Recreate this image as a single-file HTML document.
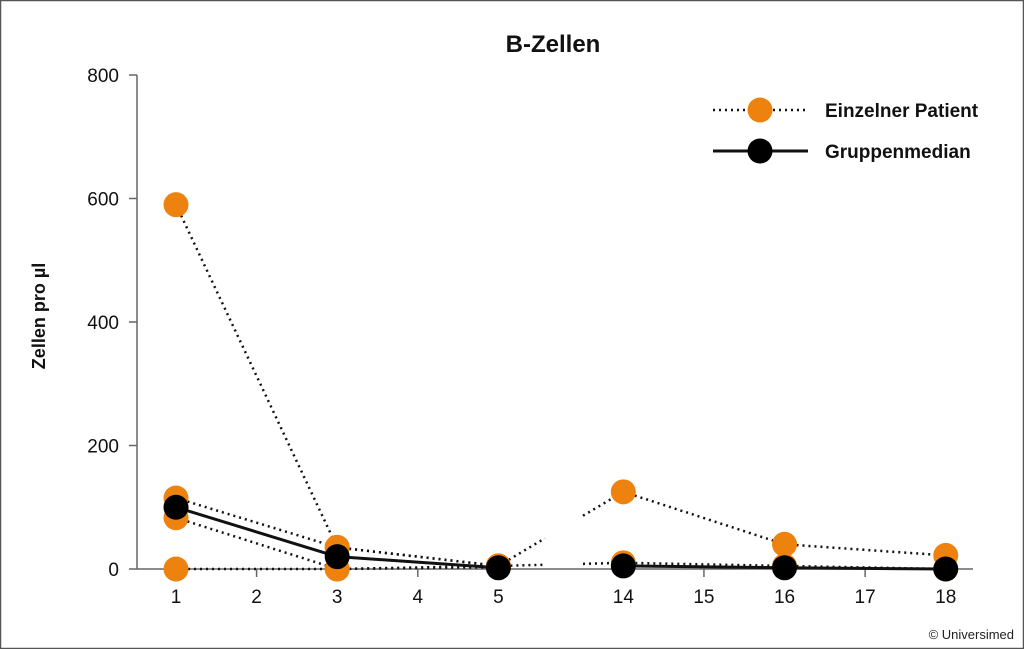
<!DOCTYPE html>
<html><head><meta charset="utf-8"><style>
html,body{margin:0;padding:0;background:#fff}
svg{display:block;font-family:"Liberation Sans Narrow","Liberation Sans",sans-serif}
</style></head><body>
<svg width="1024" height="649" viewBox="0 0 1024 649">
<rect x="0.5" y="0.5" width="1023" height="648" fill="#fff" stroke="#555" stroke-width="1.5"/>
<text x="553" y="52" text-anchor="middle" font-size="24" font-weight="bold" fill="#111">B-Zellen</text>
<text transform="translate(45,316) rotate(-90)" text-anchor="middle" font-size="18" font-weight="bold" fill="#111">Zellen pro µl</text>
<g id="axes"></g>
<g id="lines"></g>
<g id="dots"></g>
<g>
<line x1="713" y1="110" x2="808" y2="110" stroke="#111" stroke-width="2.5" stroke-dasharray="2 4"/>
<circle cx="760" cy="110" r="12.5" fill="#ee820f"/>
<text x="825" y="117" font-size="19" font-weight="bold" fill="#111">Einzelner Patient</text>
<line x1="713" y1="151" x2="808" y2="151" stroke="#111" stroke-width="3"/>
<circle cx="760" cy="151" r="12.5" fill="#000"/>
<text x="825" y="158" font-size="19" font-weight="bold" fill="#111">Gruppenmedian</text>
</g>
<text x="1014" y="639" text-anchor="end" font-size="13" fill="#222">© Universimed</text>
</svg>
<script>
const days=[1,3,5,14,16,18];
const tickDays=[1,2,3,4,5,14,15,16,17,18];
const yTicks=[0,200,400,600,800];
const patientA=[115,35,5,125,40,22];
const patientB=[0,0,5,10,5,0];
const patientC=[590,35,5,null,null,null];
const patientD=[83,0,3,null,null,null];
const median=[100,20,2,5,2,0];
const NS='http://www.w3.org/2000/svg';
function slot(d){return d<=5?d-1:d-14+5.55;}
function xS(d){return 176+slot(d)*80.6;}
function yS(v){return 569-v*494/800;}
const BREAK1=545,BREAK2=583;
function mk(tag,attrs,parent){const e=document.createElementNS(NS,tag);for(const k in attrs)e.setAttribute(k,attrs[k]);document.getElementById(parent).appendChild(e);return e;}
// axes
let ax=mk('line',{x1:137,y1:75,x2:137,y2:569,stroke:'#666','stroke-width':1.5},'axes');


let bx=mk('line',{x1:137,y1:569,x2:973,y2:569,stroke:'#666','stroke-width':1.5},'axes');


yTicks.forEach(v=>{
 let t=mk('line',{x1:129,y1:yS(v),x2:137,y2:yS(v),stroke:'#666','stroke-width':1.5},'axes');
 
 
 let l=mk('text',{x:119,y:yS(v)+7,'text-anchor':'end','font-size':19,fill:'#111'},'axes');
 l.textContent=v;
 
 
});
tickDays.forEach(d=>{
 let t=mk('line',{x1:xS(d),y1:569,x2:xS(d),y2:577,stroke:'#666','stroke-width':1.5},'axes');
 
 
 let l=mk('text',{x:xS(d),y:603,'text-anchor':'middle','font-size':19,fill:'#111'},'axes');
 l.textContent=d;
 
 
});
function seg(x1,y1,x2,y2,dotted,name){
 const a={x1:x1,y1:y1,x2:x2,y2:y2,stroke:'#111'};
 if(dotted){a['stroke-width']=2.5;a['stroke-dasharray']='2 4';}else{a['stroke-width']=3;}
 let e=mk('line',a,'lines');
 
 
}
function series(vals,dotted,name){
 for(let i=0;i<vals.length-1;i++){
  if(vals[i]==null||vals[i+1]==null)continue;
  const x1=xS(days[i]),y1=yS(vals[i]),x2=xS(days[i+1]),y2=yS(vals[i+1]);
  if(days[i]===5){
   const f=t=>y1+(y2-y1)*(t-x1)/(x2-x1);
   if(dotted){seg(x1,y1,BREAK1,f(BREAK1),dotted,name);seg(BREAK2,f(BREAK2),x2,y2,dotted,name);}
  }else seg(x1,y1,x2,y2,dotted,name);
 }
}
function dots(vals,color,name){
 vals.forEach((v,i)=>{if(v==null)return;
  let c=mk('circle',{cx:xS(days[i]),cy:yS(v),r:12.5,fill:color},'dots');
  
  
 });
}
[patientA,patientB,patientC,patientD].forEach((p,k)=>series(p,true,'patient-line-'+(k+1)));
series(median,false,'median-line');
[patientA,patientB,patientC,patientD].forEach((p,k)=>dots(p,'#ee820f','patient-point-'+(k+1)));
dots(median,'#000','median-point');
</script>
</body></html>
